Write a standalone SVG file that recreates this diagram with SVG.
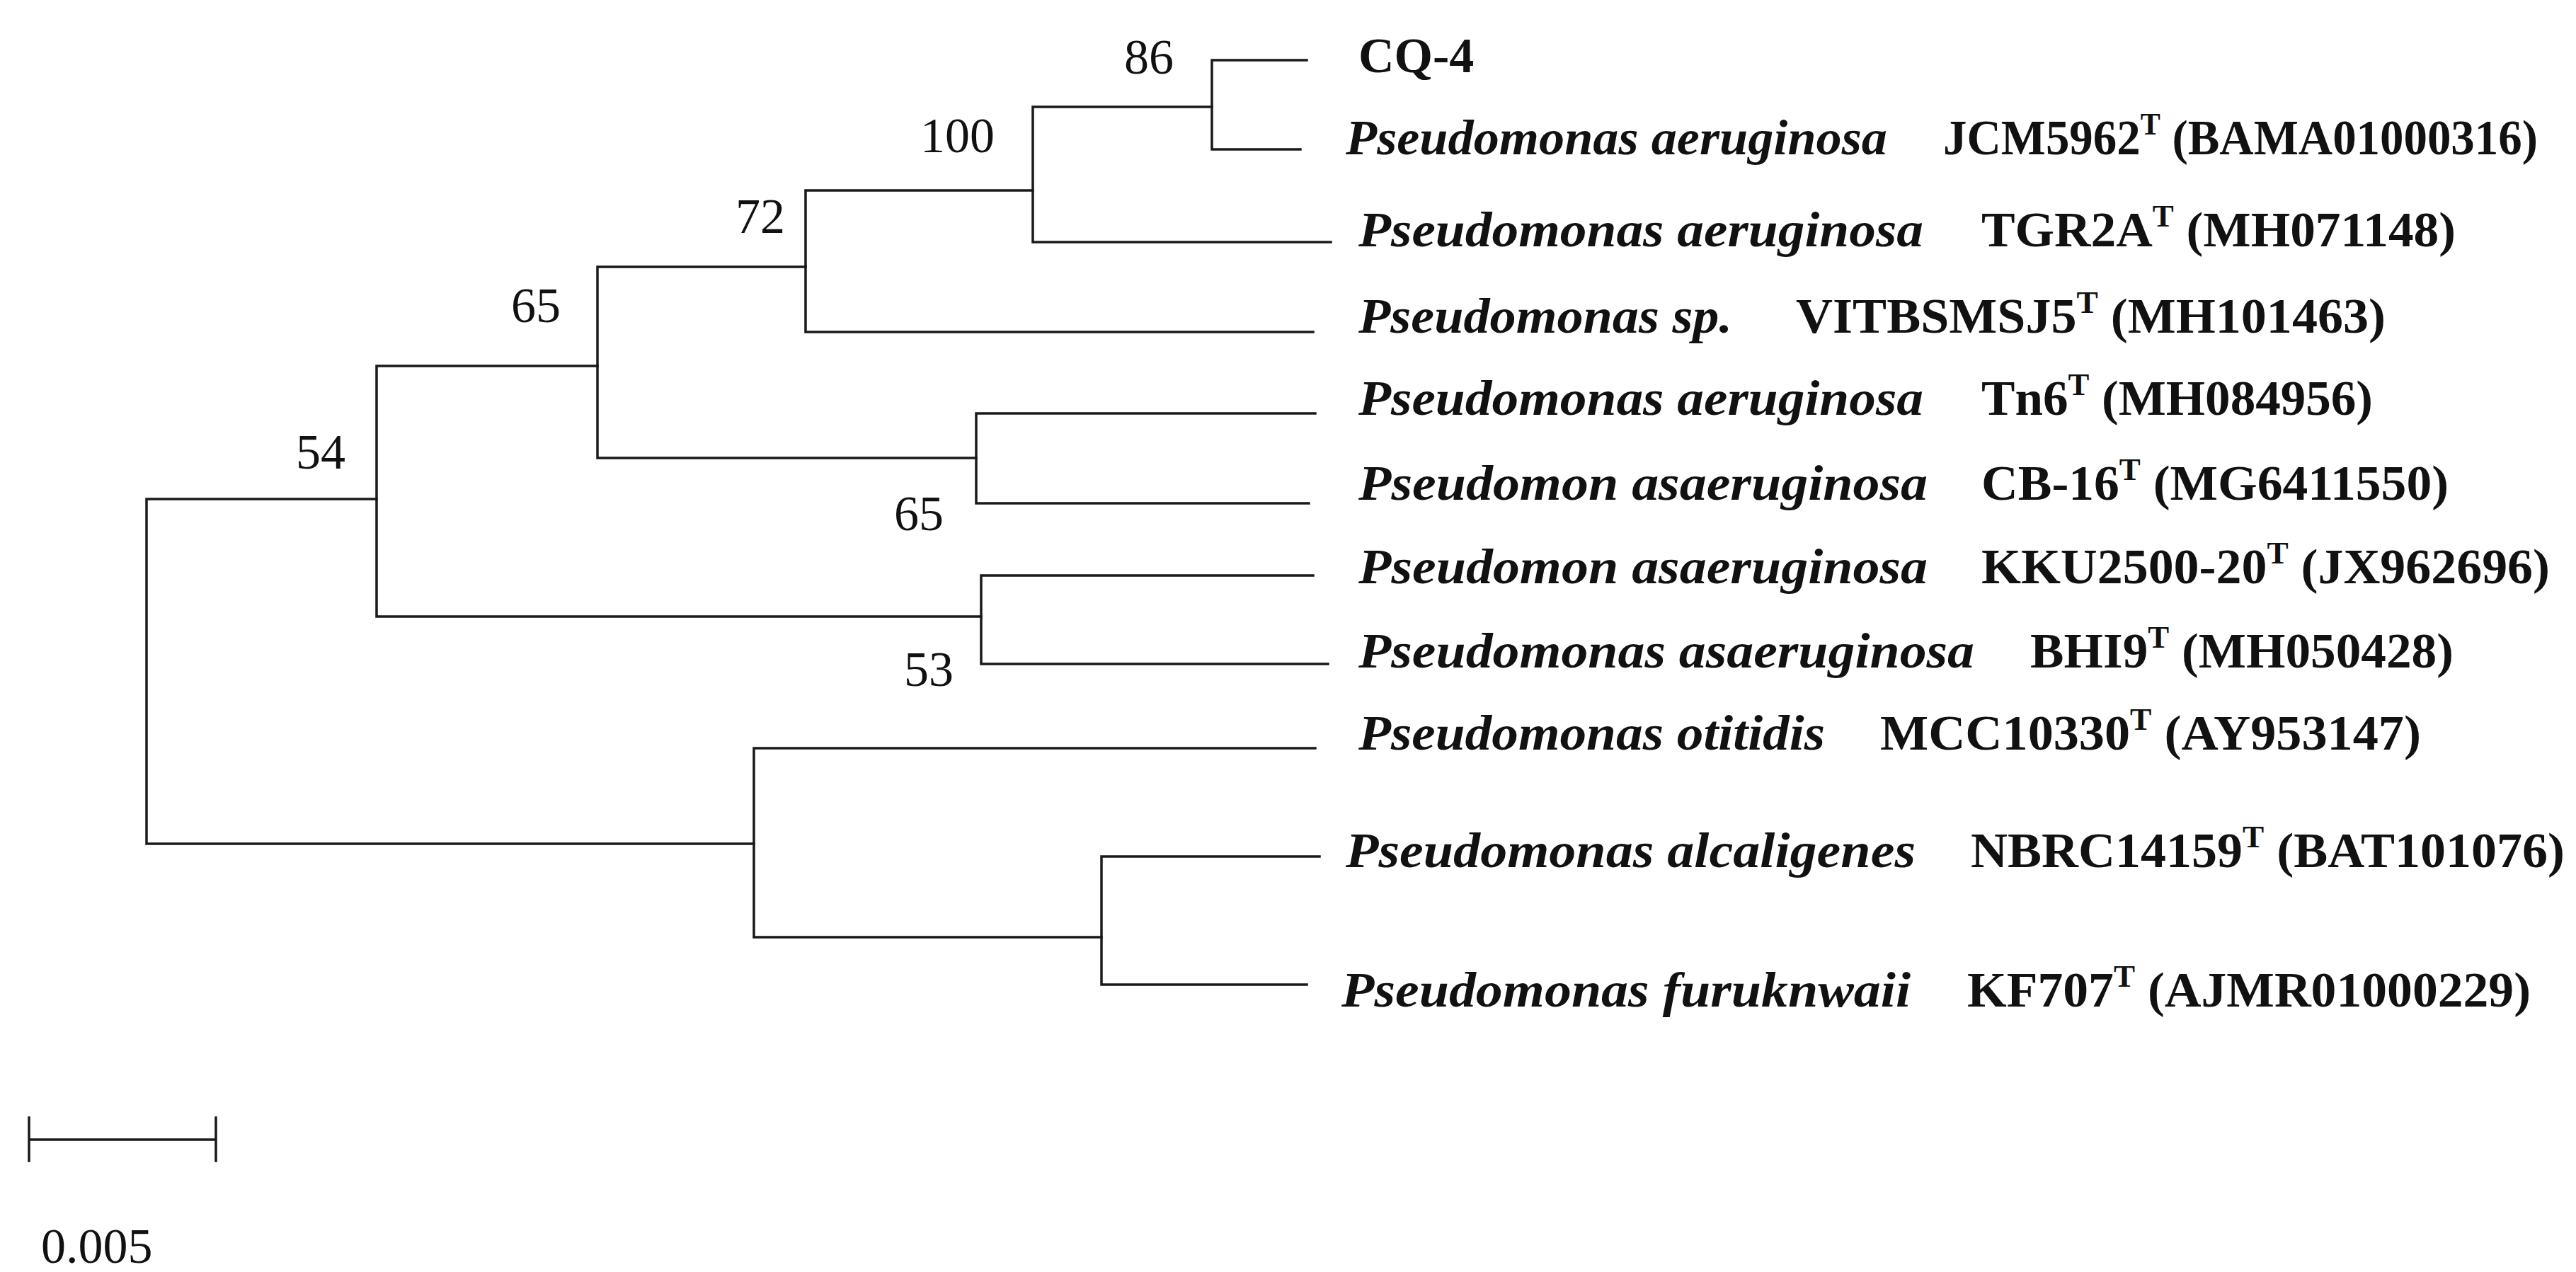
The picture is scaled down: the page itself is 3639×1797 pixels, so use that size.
<svg xmlns="http://www.w3.org/2000/svg" width="3639" height="1797" viewBox="0 0 3639 1797">
<style>
.l{stroke:#1a1a1a;stroke-width:3.5;fill:none;stroke-linecap:square}
.b{font-family:"Liberation Serif",serif;font-size:70px;fill:#111}
.s{font-family:"Liberation Serif",serif;font-size:70px;font-weight:bold;font-style:italic;fill:#111}
.i{font-family:"Liberation Serif",serif;font-size:70px;font-weight:bold;fill:#111}
.t{font-size:44px}
</style>
<rect width="3639" height="1797" fill="#fff"/>
<g id="connectors">
<path class="l" d="M207 705V1192M207 705H532M207 1192H1065"/>
<path class="l" d="M532 517V871M532 517H844M532 871H1386"/>
<path class="l" d="M844 377V647M844 377H1138M844 647H1379"/>
<path class="l" d="M1138 269V469M1138 269H1459M1138 469H1855"/>
<path class="l" d="M1459 151V342M1459 151H1712M1459 342H1880"/>
<path class="l" d="M1712 85V211M1712 85H1846M1712 211H1837"/>
<path class="l" d="M1379 584V711M1379 584H1858M1379 711H1849"/>
<path class="l" d="M1386 813V938M1386 813H1855M1386 938H1876"/>
<path class="l" d="M1065 1057V1324M1065 1057H1858M1065 1324H1556"/>
<path class="l" d="M1556 1210V1391M1556 1210H1864M1556 1391H1846"/>
<path class="l" d="M41 1610H305M41 1579V1640M305 1579V1640"/>
</g>
<g id="bootstrap">
<text class="b" x="1588" y="104">86</text>
<text class="b" x="1300" y="215">100</text>
<text class="b" x="1039" y="329">72</text>
<text class="b" x="722" y="455">65</text>
<text class="b" x="418" y="662">54</text>
<text class="b" x="1263" y="749">65</text>
<text class="b" x="1277" y="969">53</text>
<text class="b" x="58" y="1784">0.005</text>
</g>
<g id="n1"><text class="i" x="1919" y="102">CQ-4</text></g>
<g id="n2"><text class="s" x="1901" y="218" textLength="765" lengthAdjust="spacingAndGlyphs">Pseudomonas aeruginosa</text><text class="i" x="2745" y="218" textLength="840" lengthAdjust="spacingAndGlyphs">JCM5962<tspan class="t" dy="-28">T</tspan><tspan dy="28"> (BAMA01000316)</tspan></text></g>
<g id="n3"><text class="s" x="1919" y="348" textLength="798" lengthAdjust="spacingAndGlyphs">Pseudomonas aeruginosa</text><text class="i" x="2799" y="348" textLength="670" lengthAdjust="spacingAndGlyphs">TGR2A<tspan class="t" dy="-28">T</tspan><tspan dy="28"> (MH071148)</tspan></text></g>
<g id="n4"><text class="s" x="1919" y="470" textLength="528" lengthAdjust="spacingAndGlyphs">Pseudomonas sp.</text><text class="i" x="2537" y="470" textLength="833" lengthAdjust="spacingAndGlyphs">VITBSMSJ5<tspan class="t" dy="-28">T</tspan><tspan dy="28"> (MH101463)</tspan></text></g>
<g id="n5"><text class="s" x="1919" y="586" textLength="798" lengthAdjust="spacingAndGlyphs">Pseudomonas aeruginosa</text><text class="i" x="2799" y="586" textLength="553" lengthAdjust="spacingAndGlyphs">Tn6<tspan class="t" dy="-28">T</tspan><tspan dy="28"> (MH084956)</tspan></text></g>
<g id="n6"><text class="s" x="1919" y="706" textLength="804" lengthAdjust="spacingAndGlyphs">Pseudomon asaeruginosa</text><text class="i" x="2799" y="706" textLength="660" lengthAdjust="spacingAndGlyphs">CB-16<tspan class="t" dy="-28">T</tspan><tspan dy="28"> (MG6411550)</tspan></text></g>
<g id="n7"><text class="s" x="1919" y="824" textLength="804" lengthAdjust="spacingAndGlyphs">Pseudomon asaeruginosa</text><text class="i" x="2799" y="824" textLength="803" lengthAdjust="spacingAndGlyphs">KKU2500-20<tspan class="t" dy="-28">T</tspan><tspan dy="28"> (JX962696)</tspan></text></g>
<g id="n8"><text class="s" x="1919" y="943" textLength="870" lengthAdjust="spacingAndGlyphs">Pseudomonas asaeruginosa</text><text class="i" x="2868" y="943" textLength="598" lengthAdjust="spacingAndGlyphs">BHI9<tspan class="t" dy="-28">T</tspan><tspan dy="28"> (MH050428)</tspan></text></g>
<g id="n9"><text class="s" x="1919" y="1059" textLength="659" lengthAdjust="spacingAndGlyphs">Pseudomonas otitidis</text><text class="i" x="2656" y="1059" textLength="764" lengthAdjust="spacingAndGlyphs">MCC10330<tspan class="t" dy="-28">T</tspan><tspan dy="28"> (AY953147)</tspan></text></g>
<g id="n10"><text class="s" x="1901" y="1225" textLength="805" lengthAdjust="spacingAndGlyphs">Pseudomonas alcaligenes</text><text class="i" x="2784" y="1225" textLength="839" lengthAdjust="spacingAndGlyphs">NBRC14159<tspan class="t" dy="-28">T</tspan><tspan dy="28"> (BAT101076)</tspan></text></g>
<g id="n11"><text class="s" x="1895" y="1422" textLength="804" lengthAdjust="spacingAndGlyphs">Pseudomonas furuknwaii</text><text class="i" x="2779" y="1422" textLength="796" lengthAdjust="spacingAndGlyphs">KF707<tspan class="t" dy="-28">T</tspan><tspan dy="28"> (AJMR01000229)</tspan></text></g>
</svg>
